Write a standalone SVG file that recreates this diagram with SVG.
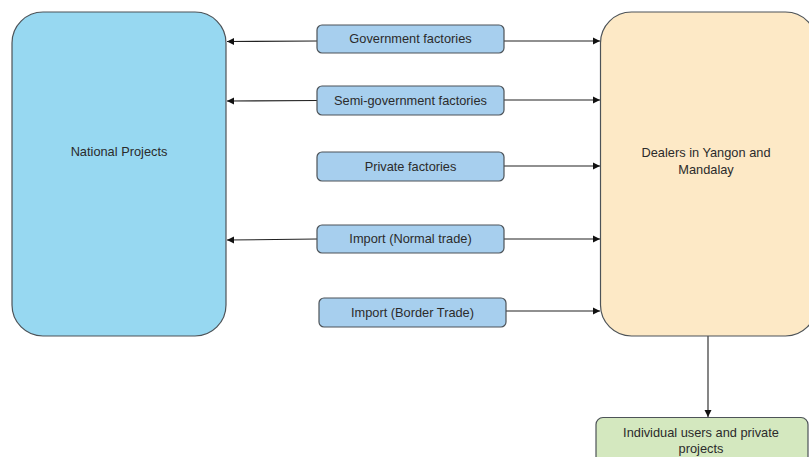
<svg xmlns="http://www.w3.org/2000/svg" width="809" height="457" viewBox="0 0 809 457">
<style>
.big{stroke:#4d5358;stroke-width:1.2}
.sm{fill:#a7cfee;stroke:#4d5358;stroke-width:1.2}
.t{font-family:"Liberation Sans",Arial,sans-serif;font-size:12.8px;fill:#2b2b2b;text-anchor:middle}
.c{stroke:#222;stroke-width:1.1;fill:none}
</style>
<defs>
<marker id="ah" markerWidth="8" markerHeight="8" refX="7" refY="4" orient="auto" markerUnits="userSpaceOnUse">
<path d="M0,0.5 L7,4 L0,7.5 Z" fill="#111"/>
</marker>
</defs>
<rect width="809" height="457" fill="#ffffff"/>
<g id="connectors">
<line class="c" x1="317" y1="41" x2="227" y2="41.5" marker-end="url(#ah)"/>
<line class="c" x1="317" y1="100.5" x2="227" y2="101" marker-end="url(#ah)"/>
<line class="c" x1="317" y1="239" x2="227" y2="240" marker-end="url(#ah)"/>
<line class="c" x1="504" y1="41" x2="600" y2="41" marker-end="url(#ah)"/>
<line class="c" x1="504" y1="100" x2="600" y2="100" marker-end="url(#ah)"/>
<line class="c" x1="504" y1="166" x2="600" y2="166" marker-end="url(#ah)"/>
<line class="c" x1="504" y1="239" x2="600" y2="239" marker-end="url(#ah)"/>
<line class="c" x1="506" y1="311" x2="600" y2="311" marker-end="url(#ah)"/>
<line class="c" x1="708" y1="336" x2="708" y2="417" marker-end="url(#ah)"/>
</g>
<g id="national">
<rect class="big" x="12" y="12" width="214" height="324" rx="31" fill="#97d8f1"/>
<text class="t" x="119" y="155.5">National Projects</text>
</g>
<g id="dealers">
<rect class="big" x="600.5" y="12" width="216" height="324" rx="31" fill="#fde9c6"/>
<text class="t" x="706" y="156.5">Dealers in Yangon and</text>
<text class="t" x="706" y="173.5">Mandalay</text>
</g>
<g id="gov">
<rect class="sm" x="317" y="25" width="187" height="28" rx="5"/>
<text class="t" x="410.5" y="42.5">Government factories</text>
</g>
<g id="semi">
<rect class="sm" x="317" y="86" width="187" height="29" rx="5"/>
<text class="t" x="410.5" y="104.5">Semi-government factories</text>
</g>
<g id="private">
<rect class="sm" x="317" y="152" width="187" height="29" rx="5"/>
<text class="t" x="410.5" y="170.5">Private factories</text>
</g>
<g id="normal">
<rect class="sm" x="317" y="225" width="187" height="28" rx="5"/>
<text class="t" x="410.5" y="242.5">Import (Normal trade)</text>
</g>
<g id="border">
<rect class="sm" x="319" y="298" width="187" height="29" rx="5"/>
<text class="t" x="412.5" y="316.5">Import (Border Trade)</text>
</g>
<g id="individual">
<rect class="big" x="596" y="417.5" width="212" height="50" rx="7" fill="#d4e8bf"/>
<text class="t" x="701" y="436.5">Individual users and private</text>
<text class="t" x="701" y="452.5">projects</text>
</g>
</svg>
